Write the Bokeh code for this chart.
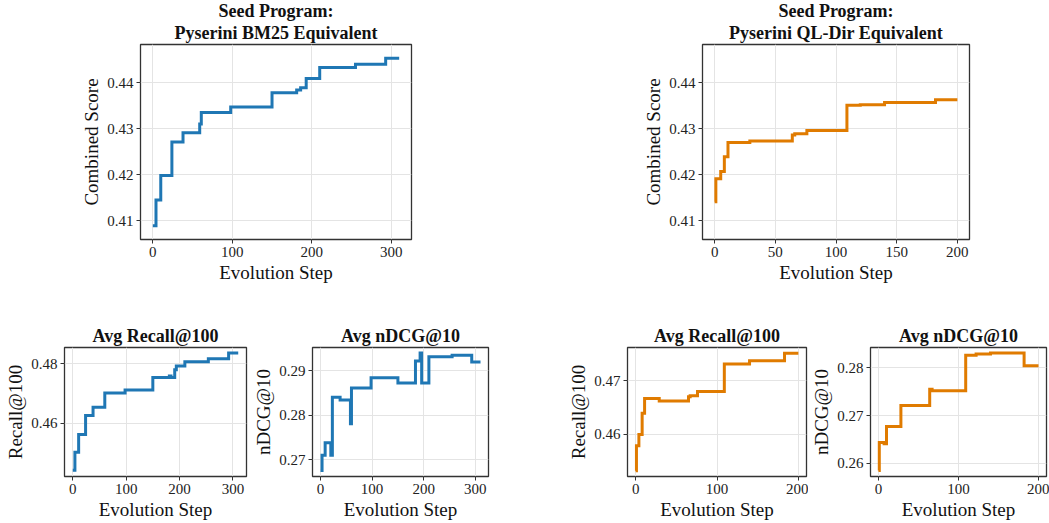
from bokeh.plotting import figure
from bokeh.layouts import column, row
from bokeh.models import Range1d, FixedTicker, PrintfTickFormatter, Title
from bokeh.embed import file_html
from bokeh.resources import INLINE

FONT = "Liberation Serif"
BLUE = "#1f77b4"
ORANGE = "#e07b00"

# ---- data (step change points) ----
bm25_combined_x = [0, 4, 10, 24, 38, 59, 61, 98, 150, 181, 186, 193, 210, 255, 293, 310]
bm25_combined_y = [0.4089, 0.4145, 0.4198, 0.4271, 0.4291, 0.4310, 0.4335, 0.4347, 0.4378,
                   0.4384, 0.4389, 0.4409, 0.4433, 0.4440, 0.4453, 0.4453]

ql_combined_x = [0, 1, 5, 8, 11, 29, 64, 66, 76, 109, 120, 140, 182, 200]
ql_combined_y = [0.4141, 0.4191, 0.4207, 0.4239, 0.4270, 0.4273, 0.4286, 0.4289, 0.4296,
                 0.4351, 0.4352, 0.4357, 0.4363, 0.4363]

bm25_recall_x = [0, 4, 11, 24, 38, 60, 98, 150, 181, 184, 191, 194, 210, 254, 292, 310]
bm25_recall_y = [0.4443, 0.4504, 0.4563, 0.4627, 0.4654, 0.4702, 0.4712, 0.4754, 0.4759,
                 0.4754, 0.4780, 0.4793, 0.4807, 0.4817, 0.4836, 0.4836]

bm25_ndcg_x = [0, 3, 9, 20, 23, 38, 58, 60, 98, 150, 184, 193, 196, 210, 255, 293, 310]
bm25_ndcg_y = [0.2676, 0.2710, 0.2738, 0.2710, 0.2840, 0.2834, 0.2781, 0.2861, 0.2884,
               0.2872, 0.2921, 0.2939, 0.2872, 0.2931, 0.2934, 0.2919, 0.2919]

ql_recall_x = [0, 1, 4, 8, 11, 29, 65, 67, 76, 109, 140, 183, 200]
ql_recall_y = [0.4531, 0.4578, 0.4599, 0.4639, 0.4667, 0.4662, 0.4670, 0.4672, 0.4680,
               0.4732, 0.4738, 0.4752, 0.4752]

ql_ndcg_x = [0, 1, 7, 10, 28, 64, 67, 109, 122, 140, 182, 200]
ql_ndcg_y = [0.2585, 0.2644, 0.2641, 0.2677, 0.2721, 0.2755, 0.2752, 0.2826, 0.2829,
             0.2831, 0.2804, 0.2804]

# titles and tick labels
title_bm25 = ["Seed Program:", "Pyserini BM25 Equivalent"]
title_ql = ["Seed Program:", "Pyserini QL-Dir Equivalent"]
ticks_x_bm25 = [0, 100, 200, 300]
ticks_x_ql_top = [0, 50, 100, 150, 200]
ticks_x_ql_bottom = [0, 100, 200]
ticks_y_combined = [0.41, 0.42, 0.43, 0.44]
ticks_y_bm25_recall = [0.46, 0.48]
ticks_y_bm25_ndcg = [0.27, 0.28, 0.29]
ticks_y_ql_recall = [0.46, 0.47]
ticks_y_ql_ndcg = [0.26, 0.27, 0.28]


def add_title(p, text, standoff):
    t = Title(text=text, align="center", text_font=FONT, text_font_size="18px",
              text_font_style="bold", text_color="#111111", standoff=standoff, offset=0)
    p.add_layout(t, "above")


def make(title_lines, xs, ys, color, xr, yr, xticks, yticks, ylabel,
         width, height, bl, br, bt, bb):
    p = figure(width=width, height=height, title=None,
               x_range=Range1d(*xr), y_range=Range1d(*yr),
               output_backend="svg", toolbar_location=None,
               min_border_left=bl, min_border_right=br,
               min_border_top=bt, min_border_bottom=bb,
               background_fill_color="white", border_fill_color="white")
    # lines are stacked outward from the frame: add the lowest line first
    lines = list(title_lines)
    for i, line in enumerate(reversed(lines)):
        add_title(p, line, 3 if i == 0 else -3)

    p.step(xs, ys, mode="after", line_color=color, line_width=3, line_join="miter")

    p.outline_line_color = "#333333"
    p.outline_line_width = 1.3
    p.outline_line_alpha = 1.0

    for ax in (p.xaxis[0], p.yaxis[0]):
        ax.axis_line_color = None
        ax.major_tick_line_color = "#333333"
        ax.major_tick_out = 4
        ax.major_tick_in = 0
        ax.minor_tick_line_color = None
        ax.major_label_text_font = FONT
        ax.major_label_text_font_size = "15px"
        ax.major_label_text_color = "#222222"
        ax.major_label_standoff = 3
        ax.axis_label_text_font = FONT
        ax.axis_label_text_font_size = "19px"
        ax.axis_label_text_font_style = "normal"
        ax.axis_label_text_color = "#111111"
        ax.axis_label_standoff = 2

    p.xaxis.axis_label = "Evolution Step"
    p.yaxis.axis_label = ylabel
    p.xaxis.ticker = FixedTicker(ticks=xticks)
    p.yaxis.ticker = FixedTicker(ticks=yticks)
    p.xaxis.formatter = PrintfTickFormatter(format="%d")
    p.yaxis.formatter = PrintfTickFormatter(format="%.2f")

    p.xgrid.grid_line_color = "#e4e4e4"
    p.ygrid.grid_line_color = "#e4e4e4"
    p.xgrid.grid_line_width = 1
    p.ygrid.grid_line_width = 1
    return p


XR_BM25 = (-15.5, 325.5)
XR_QL = (-10, 210)
YR_TOP = (0.4059, 0.4483)

TOP_H = 290
BOT_H = 233

tl = make(title_bm25, bm25_combined_x, bm25_combined_y, BLUE,
          XR_BM25, YR_TOP, ticks_x_bm25, ticks_y_combined, "Combined Score",
          640, TOP_H, 140, 229, 44, 51)
tr = make(title_ql, ql_combined_x, ql_combined_y, ORANGE,
          XR_QL, YR_TOP, ticks_x_ql_top, ticks_y_combined, "Combined Score",
          409, TOP_H, 58, 80, 44, 51)

b1 = make(["Avg Recall@100"], bm25_recall_x, bm25_recall_y, BLUE,
          XR_BM25, (0.44224, 0.48546), ticks_x_bm25, ticks_y_bm25_recall, "Recall@100",
          250, BOT_H, 64, 4, 57, 47)
b2 = make(["Avg nDCG@10"], bm25_ndcg_x, bm25_ndcg_y, BLUE,
          XR_BM25, (0.26627, 0.29515), ticks_x_bm25, ticks_y_bm25_ndcg, "nDCG@10",
          315, BOT_H, 57, 77, 57, 47)
b3 = make(["Avg Recall@100"], ql_recall_x, ql_recall_y, ORANGE,
          XR_QL, (0.4520, 0.47629), ticks_x_ql_bottom, ticks_y_ql_recall, "Recall@100",
          243, BOT_H, 57, 2, 57, 47)
b4 = make(["Avg nDCG@10"], ql_ndcg_x, ql_ndcg_y, ORANGE,
          XR_QL, (0.25727, 0.28424), ticks_x_ql_bottom, ticks_y_ql_ndcg, "nDCG@10",
          241, BOT_H, 56, 3, 57, 47)

layout = column(row(tl, tr), row(b1, b2, b3, b4))

open("out.html", "w").write(file_html(layout, INLINE))
